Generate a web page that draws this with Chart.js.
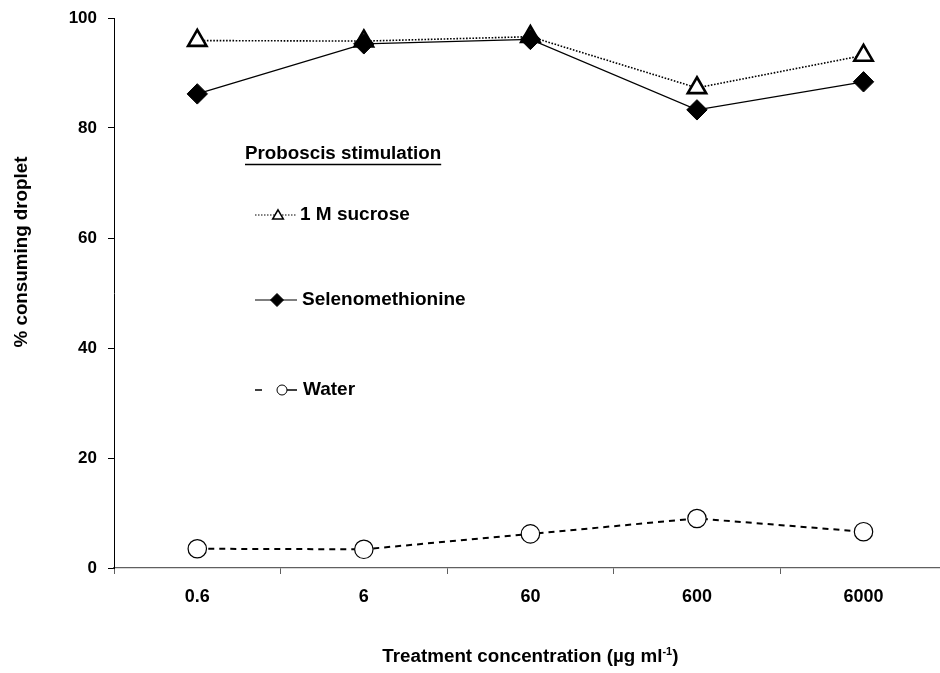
<!DOCTYPE html>
<html>
<head>
<meta charset="utf-8">
<script src="https://cdn.jsdelivr.net/npm/chart.js@4/dist/chart.umd.min.js"></script>
<style>
  html, body { margin: 0; padding: 0; background: #fff; overflow: hidden; }
  #wrap { width: 960px; height: 673px; }
</style>
</head>
<body>
<div id="wrap"><canvas id="c" width="960" height="673"></canvas></div>
<script>
// Treatment concentrations (µg ml-1)
const concentrations = ['0.6', '6', '60', '600', '6000'];

// % of insects consuming the droplet, by proboscis stimulation
const sucrose = [95.9, 95.8, 96.6, 87.3, 93.2];
const selenomethionine = [86.2, 95.3, 96.1, 83.3, 88.4];
const water = [3.5, 3.4, 6.2, 9.0, 6.6];

const yTicks = [0, 20, 40, 60, 80, 100];

const FONT = "'Liberation Sans', Arial, sans-serif";
const TITLE_SIZE = 18.8;
const LEGEND_SIZE = 19;

// Axis titles, drawn by hand so the unit can carry a superscript
const axisTitles = {
  id: 'axisTitles',
  afterDraw(chart) {
    const ctx = chart.ctx;
    const area = chart.chartArea;
    ctx.save();
    ctx.fillStyle = '#000';
    ctx.textBaseline = 'alphabetic';

    // x title
    const big = 'bold ' + TITLE_SIZE + 'px ' + FONT;
    const small = 'bold 11px ' + FONT;
    const p1 = 'Treatment concentration (µg ml';
    const p2 = '-1';
    const p3 = ')';
    ctx.font = big; const w1 = ctx.measureText(p1).width; const w3 = ctx.measureText(p3).width;
    ctx.font = small; const w2 = ctx.measureText(p2).width;
    const total = w1 + w2 + w3;
    let x = (area.left + area.right) / 2 - total / 2;
    const base = 662;
    ctx.textAlign = 'left';
    ctx.font = big; ctx.fillText(p1, x, base); x += w1;
    ctx.font = small; ctx.fillText(p2, x, base - 7); x += w2;
    ctx.font = big; ctx.fillText(p3, x, base);

    // y title
    ctx.translate(27, 252);
    ctx.rotate(-Math.PI / 2);
    ctx.textAlign = 'center';
    ctx.font = big;
    ctx.fillText('% consuming droplet', 0, 0);
    ctx.restore();
  }
};

// Legend block placed inside the plot
const insetLegend = {
  id: 'insetLegend',
  afterDraw(chart) {
    const ctx = chart.ctx;
    const draw = Chart.helpers.drawPoint;
    ctx.save();
    ctx.fillStyle = '#000';
    ctx.textBaseline = 'middle';
    ctx.textAlign = 'left';

    // heading, underlined
    ctx.font = 'bold ' + TITLE_SIZE + 'px ' + FONT;
    const head = 'Proboscis stimulation';
    const hx = 245, hy = 154;
    ctx.fillText(head, hx, hy);
    const hw = ctx.measureText(head).width;
    ctx.strokeStyle = '#000';
    ctx.lineWidth = 1.4;
    ctx.beginPath();
    ctx.moveTo(hx, hy + 10.5);
    ctx.lineTo(hx + hw, hy + 10.5);
    ctx.stroke();

    ctx.font = 'bold ' + LEGEND_SIZE + 'px ' + FONT;
    const x0 = 255, x1 = 297;

    // 1 M sucrose
    let y = 215;
    ctx.setLineDash([1.5, 1.5]);
    ctx.lineWidth = 1;
    ctx.beginPath(); ctx.moveTo(x0, y); ctx.lineTo(x1, y); ctx.stroke();
    ctx.setLineDash([]);
    ctx.fillStyle = '#fff'; ctx.strokeStyle = '#000'; ctx.lineWidth = 1.5;
    draw(ctx, { pointStyle: 'triangle', radius: 6.2, borderWidth: 1.5, rotation: 0 }, 278, y + 1);
    ctx.fillStyle = '#000';
    ctx.fillText('1 M sucrose', 300, y);

    // Selenomethionine
    y = 300;
    ctx.lineWidth = 1.2;
    ctx.beginPath(); ctx.moveTo(x0, y); ctx.lineTo(x1, y); ctx.stroke();
    ctx.fillStyle = '#000'; ctx.lineWidth = 1;
    draw(ctx, { pointStyle: 'rectRot', radius: 6.5, borderWidth: 1, rotation: 0 }, 277, y);
    ctx.fillText('Selenomethionine', 302, y);

    // Water
    y = 390;
    ctx.lineWidth = 1.5;
    ctx.beginPath(); ctx.moveTo(x0, y); ctx.lineTo(x0 + 7, y); ctx.stroke();
    ctx.beginPath(); ctx.moveTo(287, y); ctx.lineTo(x1, y); ctx.stroke();
    ctx.fillStyle = '#fff'; ctx.lineWidth = 1;
    draw(ctx, { pointStyle: 'circle', radius: 5, borderWidth: 1, rotation: 0 }, 282, y);
    ctx.fillStyle = '#000';
    ctx.fillText('Water', 303, y);

    ctx.restore();
  }
};

new Chart(document.getElementById('c'), {
  type: 'line',
  data: {
    labels: concentrations,
    datasets: [
      {
        label: 'Selenomethionine',
        data: selenomethionine,
        borderColor: '#000',
        borderWidth: 1.2,
        pointStyle: 'rectRot',
        pointRadius: 10.2,
        pointBorderWidth: 1,
        pointBackgroundColor: '#000',
        pointBorderColor: '#000',
        tension: 0
      },
      {
        label: '1 M sucrose',
        data: sucrose,
        borderColor: '#000',
        borderWidth: 1.6,
        borderDash: [1.6, 1.6],
        pointStyle: 'triangle',
        pointRadius: 10.6,
        pointBorderWidth: 2.6,
        pointBackgroundColor: '#fff',
        pointBorderColor: '#000',
        tension: 0
      },
      {
        label: 'Water',
        data: water,
        borderColor: '#000',
        borderWidth: 2,
        borderDash: [6, 5],
        pointStyle: 'circle',
        pointRadius: 9.2,
        pointBorderWidth: 1.2,
        pointBackgroundColor: '#fff',
        pointBorderColor: '#000',
        tension: 0
      }
    ]
  },
  options: {
    responsive: false,
    animation: false,
    events: [],
    clip: false,
    layout: { padding: { top: 18, right: 11, left: 0, bottom: 0 } },
    plugins: {
      legend: { display: false },
      tooltip: { enabled: false }
    },
    scales: {
      x: {
        type: 'category',
        offset: true,
        grid: {
          offset: true,
          drawOnChartArea: false,
          drawTicks: true,
          tickLength: 6,
          color: '#606060',
          lineWidth: 1
        },
        border: { display: true, color: '#606060', width: 1.3 },
        ticks: {
          color: '#000',
          font: { family: FONT, size: 18, weight: 'bold' },
          padding: 12,
          maxRotation: 0
        },
        afterFit(scale) { scale.height = 105; }
      },
      y: {
        min: 0,
        max: 100,
        afterBuildTicks(scale) { scale.ticks = yTicks.map(v => ({ value: v })); },
        grid: {
          drawOnChartArea: false,
          drawTicks: true,
          tickLength: 6,
          color: '#000',
          lineWidth: 1
        },
        border: { display: true, color: '#000', width: 1 },
        ticks: {
          color: '#000',
          font: { family: FONT, size: 17, weight: 'bold' },
          padding: 11
        },
        afterFit(scale) {
          scale.width = 114;
          // the plot top is set by the layout padding alone
          scale.paddingTop = 0;
          scale.paddingBottom = 0;
        }
      }
    }
  },
  plugins: [axisTitles, insetLegend]
});
</script>
</body>
</html>
